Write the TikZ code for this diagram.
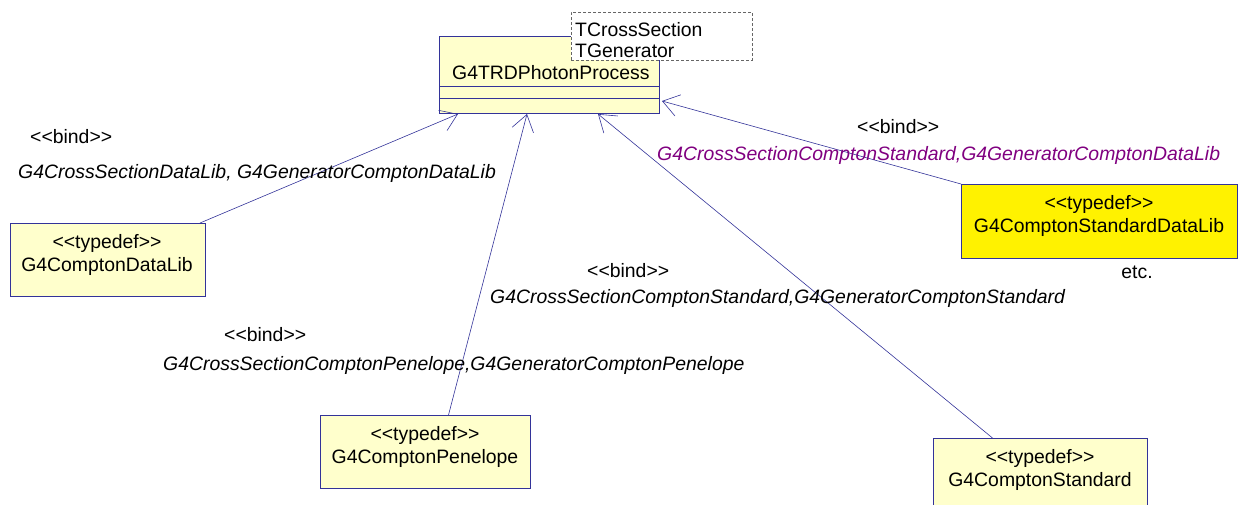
\documentclass[tikz,border=0pt]{standalone}
\usepackage{fontspec}
\setmainfont{Liberation Sans}
\usetikzlibrary{arrows.meta}
\definecolor{umlfill}{RGB}{255,255,204}
\definecolor{umlline}{RGB}{51,51,153}
\definecolor{umlpurple}{RGB}{128,0,128}
\newcommand{\stereo}[1]{{<}{<}#1{>}{>}}
\begin{document}
\begin{tikzpicture}[x=1pt, y=-1pt, font=\fontsize{19.4}{23}\selectfont,
		classbox/.style={draw=umlline, fill=umlfill, line width=1pt, anchor=north west, inner sep=0pt},
		typedefbox/.style={classbox, align=center},
		bindarrow/.style={draw=umlline, line width=0.6pt, -{Straight Barb[length=16pt,width=22pt]}},
		bindlabel/.style={anchor=west, inner sep=0pt},
		bindargs/.style={anchor=west, inner sep=0pt, font=\fontsize{19.4}{23}\selectfont\itshape}]
	\useasboundingbox (0,0) rectangle (1242,505);
	% the class with its template parameters
	\node[classbox, minimum width=220pt, minimum height=77pt] (proc) at (439,36) {};
	\node[anchor=west, inner sep=0pt] (procname) at (452,73) {G4TRDPhotonProcess};
	\draw[umlline, line width=1pt] (proc.west |- 0,87) -- (proc.east |- 0,87);
	\draw[umlline, line width=1pt] (proc.west |- 0,99) -- (proc.east |- 0,99);
	\node[draw=gray!80!black, densely dashed, fill=white, anchor=north west, minimum width=181pt, minimum height=48pt] (tparams) at (571,12) {};
	\node[anchor=west, inner sep=0pt, align=left] (tnames) at (575,40) {TCrossSection\\[-2pt]TGenerator};
	% typedefs
	\node[typedefbox, minimum width=195pt, minimum height=73pt] (dl) at (10,223) {};
	\node (dltext) at (107,255) [align=center] {\stereo{typedef}\\G4ComptonDataLib};
	\node[typedefbox, minimum width=210pt, minimum height=73pt] (pen) at (320,415) {};
	\node (pentext) at (425,447) [align=center] {\stereo{typedef}\\G4ComptonPenelope};
	\node[typedefbox, minimum width=214pt, minimum height=80pt] (std) at (933,438) {};
	\node (stdtext) at (1040,470) [align=center] {\stereo{typedef}\\G4ComptonStandard};
	\node[typedefbox, fill=yellow, minimum width=276pt, minimum height=74pt] (sdl) at (961,184) {};
	\node (sdltext) at (1099,216) [align=center] {\stereo{typedef}\\G4ComptonStandardDataLib};
	\node (etc) at (1137,272) {etc.};
	% bindings
	\draw[bindarrow] ([xshift=-6pt]dl.north east) -- ([xshift=19pt]proc.south west);
	\draw[bindarrow] ([xshift=23pt]pen.north) -- ([xshift=88pt]proc.south west);
	\draw[bindarrow] ([xshift=-48pt]std.north) -- ([xshift=159pt]proc.south west);
	\draw[bindarrow] (sdl.north west) -- ([xshift=2pt,yshift=13pt]proc.south east);
	\node[bindlabel] (b1) at (30,137) {\stereo{bind}};
	\node[bindargs] (a1) at (18,173) {G4CrossSectionDataLib,\ G4GeneratorComptonDataLib};
	\node[bindlabel] (b2) at (857,127) {\stereo{bind}};
	\node[bindargs, text=umlpurple] (a2) at (657,155) {G4CrossSectionComptonStandard,G4GeneratorComptonDataLib};
	\node[bindlabel] (b3) at (587,271) {\stereo{bind}};
	\node[bindargs] (a3) at (490,298) {G4CrossSectionComptonStandard,G4GeneratorComptonStandard};
	\node[bindlabel] (b4) at (224,335) {\stereo{bind}};
	\node[bindargs] (a4) at (163,365) {G4CrossSectionComptonPenelope,G4GeneratorComptonPenelope};
\end{tikzpicture}
\end{document}
